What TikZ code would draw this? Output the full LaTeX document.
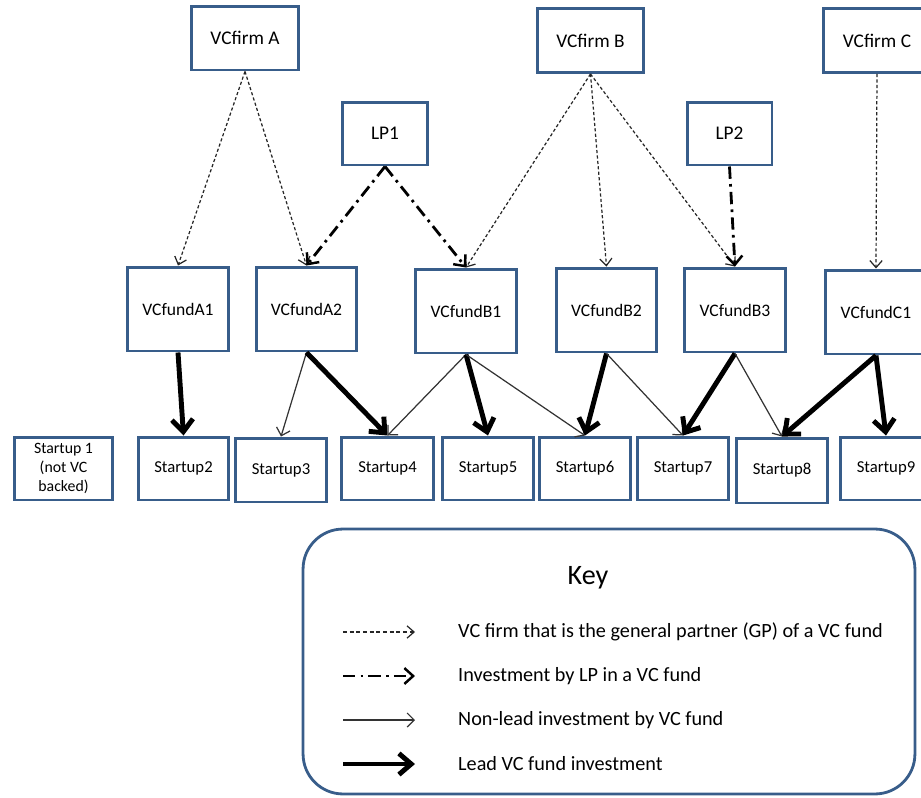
\documentclass[tikz,border=0pt]{standalone}
\usepackage{fontspec}
\setmainfont{Carlito}
\usetikzlibrary{positioning}
\usetikzlibrary{arrows.meta}
\definecolor{boxblue}{RGB}{56,93,138}
\tikzset{
thinline/.style={line width=0.7pt},
thickline/.style={line width=2.8pt},
box/.style 2 args={draw=boxblue, line width=1.7pt, fill=white, align=center,
	inner sep=1pt, minimum width=#1, minimum height=#2},
firm/.style={box={2.14cm}{1.28cm}, font=\fontsize{11}{13}\selectfont},
lp/.style={box={1.7cm}{1.26cm}, font=\fontsize{11}{13}\selectfont},
fund/.style={box={2.02cm}{1.68cm}, font=\fontsize{10}{12}\selectfont},
startup/.style={box={1.82cm}{1.26cm}, font=\fontsize{9.5}{11}\selectfont},
keybox/.style={draw=boxblue, line width=1.6pt, rounded corners=0.8cm,
	minimum width=12.24cm, minimum height=5.3cm},
keytext/.style={anchor=west, font=\fontsize{11.5}{13}\selectfont},
gp/.style={-{Straight Barb[length=4pt,width=7pt]}, thinline, black!85,
	dash pattern=on 1.8pt off 1.3pt},
lpinv/.style={-{Straight Barb[length=5pt,width=9pt,line width=1.4pt]}, line width=1.6pt,
	dash pattern=on 7pt off 3pt on 1.5pt off 3pt},
nonlead/.style={-{Straight Barb[length=4pt,width=8pt]}, thinline, black!80},
lead/.style={-{Straight Barb[length=7pt,width=12pt]}, thickline},
}
\begin{document}
\begin{tikzpicture}[x=0.02cm, y=-0.02cm]
	\useasboundingbox (0,0) rectangle (921,798);
	%
	\node[firm] (firmA) at (245,38) {VCfirm A};
	\node[firm] (firmB) at (590.5,40.5) {VCfirm B};
	\node[firm] (firmC) at (877,40.5) {VCfirm C};
	\node[lp] (lp1) at (385,133.5) {LP1};
	\node[lp] (lp2) at (729.5,133.5) {LP2};
	
	%
	\node[fund] (fundA1) at (178,309) {VCfundA1};
	\node[fund] (fundA2) at (306.5,309) {VCfundA2};
	\node[fund] (fundB1) at (466,311) {VCfundB1};
	\node[fund] (fundB2) at (606.5,310) {VCfundB2};
	\node[fund] (fundB3) at (735,310) {VCfundB3};
	\node[fund] (fundC1) at (876,312) {VCfundC1};
	
	%
	\node[startup, minimum width=1.98cm, font=\fontsize{9}{11}\selectfont] (s1) at (63.5,468.5) {Startup 1\\(not VC\\backed)};
	\node[startup] (s2) at (183.5,468.5) {Startup2};
	\node[startup, minimum height=1.28cm] (s3) at (281,470) {Startup3};
	\node[startup, minimum width=1.86cm] (s4) at (387.5,468.5) {Startup4};
	\node[startup] (s5) at (488,468.5) {Startup5};
	\node[startup] (s6) at (585,468.5) {Startup6};
	\node[startup] (s7) at (683,468.5) {Startup7};
	\node[startup, minimum height=1.3cm] (s8) at (782,470.5) {Startup8};
	\node[startup] (s9) at (886,468.5) {Startup9};
	
	%
	\draw[gp] (firmA.south) to (fundA1.north);
	\draw[gp] (firmA.south) to (fundA2.north);
	\draw[gp] (firmB.south) to (fundB1.north);
	\draw[gp] (firmB.south) to (fundB2.north);
	\draw[gp] (firmB.south) to (fundB3.north);
	\draw[gp] (firmC.south) to (fundC1.north);
	
	%
	\draw[lpinv] (lp1.south) to (fundA2.north);
	\draw[lpinv] (lp1.south) to (fundB1.north);
	\draw[lpinv] (lp2.south) to (fundB3.north);
	
	%
	\draw[lead] (fundA1.south) to (s2.north);
	\draw[nonlead] (fundA2.south) to (s3.north);
	\draw[lead] (fundA2.south) to (s4.north);
	\draw[nonlead] (fundB1.south) to (s4.north);
	\draw[lead] (fundB1.south) to (s5.north);
	\draw[nonlead] (fundB1.south) to (s6.north);
	\draw[lead] (fundB2.south) to (s6.north);
	\draw[nonlead] (fundB2.south) to (s7.north);
	\draw[lead] (fundB3.south) to (s7.north);
	\draw[nonlead] (fundB3.south) to (s8.north);
	\draw[lead] (fundC1.south) to (s8.north);
	\draw[lead] (fundC1.south) to (s9.north);
	
	%
	\node[keybox] (key) at (609,661.5) {};
	\node[font=\fontsize{16}{18}\selectfont] (keytitle) at (588,578) {Key};
	\coordinate (g1) at (343,632);
	\coordinate (g2) at (415,632);
	\coordinate (d1) at (343,676);
	\coordinate (d2) at (415,676);
	\coordinate (n1) at (343,720);
	\coordinate (n2) at (415,720);
	\coordinate (l1) at (343,764);
	\coordinate (l2) at (415,764);
	\draw[gp, dash pattern=on 2.2pt off 1.6pt] (g1) to (g2);
	\draw[lpinv] (d1) to (d2);
	\draw[nonlead] (n1) to (n2);
	\draw[lead] (l1) to (l2);
	\node[keytext] (gtext) at (452,632) {VC firm that is the general partner (GP) of a VC fund};
	\node[keytext] (dtext) at (452,676) {Investment by LP in a VC fund};
	\node[keytext] (ntext) at (452,720) {Non-lead investment by VC fund};
	\node[keytext] (ltext) at (452,764) {Lead VC fund investment};
\end{tikzpicture}
\end{document}
